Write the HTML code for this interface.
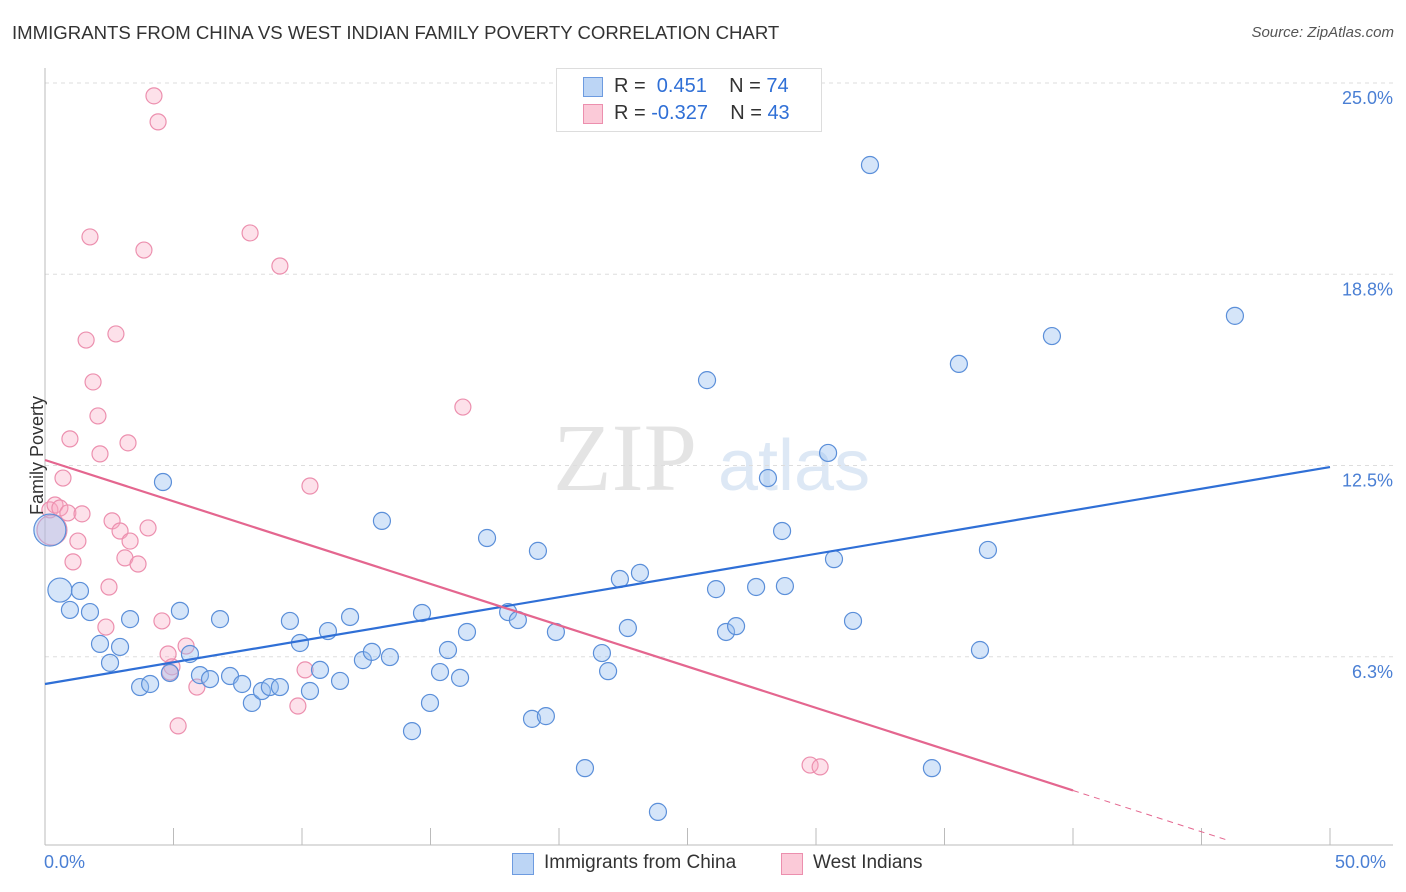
<!DOCTYPE html>
<html><head><meta charset="utf-8">
<style>
body{margin:0;background:#fff;font-family:"Liberation Sans",sans-serif;}
#wrap{position:relative;width:1406px;height:892px;overflow:hidden;}
.t{position:absolute;white-space:nowrap;}
</style></head><body>
<div id="wrap">
<div class="t" style="left:12px;top:22px;font-size:18.6px;color:#333;">IMMIGRANTS FROM CHINA VS WEST INDIAN FAMILY POVERTY CORRELATION CHART</div>
<div class="t" style="right:12px;top:24px;font-size:15px;color:#555;font-style:italic;">Source: ZipAtlas.com</div>
<svg id="svg" width="1406" height="892" style="position:absolute;left:0;top:0"></svg>
</div>
<script>
const xTicks=[0,5,10,15,20,25,30,35,40,45,50];
const yTicks=[6.25,12.5,18.75,25];
const yTickLabels=["6.3%","12.5%","18.8%","25.0%"];
const chinaX=[0.19,0.58,0.97,1.36,1.75,2.14,2.53,2.92,3.31,3.70,4.09,4.59,4.86,5.25,5.64,6.03,6.42,6.81,7.20,7.67,8.05,8.44,8.75,9.14,9.53,9.92,10.31,10.70,11.01,11.48,11.87,12.37,12.72,13.11,13.42,14.28,14.67,14.98,15.37,15.68,16.15,16.42,17.20,18.02,18.40,18.95,19.18,19.49,19.88,21.01,21.67,21.91,22.37,22.68,23.15,23.85,25.76,26.11,26.50,26.89,27.67,28.13,28.68,28.79,30.47,30.70,31.44,32.10,34.51,35.56,36.38,36.69,39.18,46.30];
const chinaY=[10.39,8.43,7.78,8.40,7.71,6.67,6.05,6.57,7.48,5.26,5.36,11.96,5.72,7.75,6.34,5.65,5.52,7.48,5.62,5.36,4.74,5.13,5.26,5.26,7.42,6.70,5.13,5.82,7.09,5.46,7.55,6.14,6.41,10.69,6.24,3.82,7.68,4.74,5.75,6.47,5.56,7.06,10.13,7.71,7.45,4.22,9.71,4.31,7.06,2.61,6.37,5.78,8.79,7.19,8.99,1.18,15.29,8.46,7.06,7.25,8.53,12.09,10.36,8.56,12.91,9.44,7.42,22.32,2.61,15.82,6.47,9.74,16.73,17.39];
const wiX=[0.19,0.39,0.58,0.70,0.89,0.97,1.09,1.28,1.44,1.60,1.75,1.87,2.06,2.14,2.37,2.49,2.61,2.76,2.92,3.11,3.23,3.31,3.62,3.85,4.01,4.24,4.40,4.55,4.79,4.94,5.18,5.49,5.91,7.98,9.14,9.84,10.12,10.31,16.26,29.77,30.16,0.27,4.86];
const wiY=[11.05,11.21,11.11,12.09,10.95,13.37,9.35,10.03,10.92,16.60,19.97,15.23,14.12,12.88,7.22,8.53,10.69,16.80,10.36,9.48,13.24,10.03,9.28,19.54,10.46,24.58,23.73,7.42,6.34,5.92,3.99,6.60,5.26,20.10,19.02,4.64,5.82,11.83,14.41,2.71,2.65,10.39,5.75];
const chinaLine=[5.36,12.45];
const wiLine=[12.68,-0.27];
const X0=45,X1=1330,YT=83,YB=848;
const xs=v=>X0+(v/50)*(X1-X0);
const ys=v=>YB-(v/25)*(YB-YT);
const svg=document.getElementById('svg');
const NS='http://www.w3.org/2000/svg';
function mk(tag,at,parent){const e=document.createElementNS(NS,tag);for(const k in at)e.setAttribute(k,at[k]);(parent||svg).appendChild(e);return e;}
let w=mk('text',{x:553,y:490,'font-size':96,'font-family':'Liberation Serif,serif',fill:'#e4e4e4'});w.textContent='ZIP';


let w2=mk('text',{x:718,y:490,'font-size':72,'font-family':'Liberation Sans,sans-serif',fill:'#dde8f5'});w2.textContent='atlas';


yTicks.forEach((t,i)=>{
 const g=mk('line',{x1:X0,x2:1393,y1:ys(t),y2:ys(t),stroke:'#ddd','stroke-dasharray':'4,4'});
 
 
 const l=mk('text',{x:1393,y:ys(t)+21,'text-anchor':'end','font-size':18,fill:'#4a7fd4'});l.textContent=yTickLabels[i];
 
 
});
const ax=mk('line',{x1:X0,x2:X0,y1:68,y2:845,stroke:'#bbb'});


const bx=mk('line',{x1:X0,x2:1393,y1:845,y2:845,stroke:'#bbb'});


xTicks.forEach(t=>{const k=mk('line',{x1:xs(t),x2:xs(t),y1:828,y2:845,stroke:'#bbb'});
 
 });
function dot(x,y,r,fill,stroke,name){const c=mk('circle',{cx:xs(x),cy:ys(y),r:r,fill:fill,stroke:stroke,'stroke-width':1.2});
 
 }
wiX.forEach((x,i)=>dot(x,wiY[i],i==41?15:8,'rgba(248,170,195,0.35)','#ec8fae','west-indians-point'));
chinaX.forEach((x,i)=>dot(x,chinaY[i],i==0?16:(i==1?12:8.5),'rgba(150,190,240,0.4)','#5b8fd9','china-point'));
const bl=mk('line',{x1:xs(0),y1:ys(chinaLine[0]),x2:xs(50),y2:ys(chinaLine[1]),stroke:'#2f6fd6','stroke-width':2.2});


const pl=mk('line',{x1:xs(0),y1:ys(wiLine[0]),x2:xs(40),y2:ys(wiLine[0]+wiLine[1]*40),stroke:'#e4668f','stroke-width':2.2});


const pd=mk('line',{x1:xs(40),y1:ys(wiLine[0]+wiLine[1]*40),x2:xs(46.1),y2:ys(wiLine[0]+wiLine[1]*46.1),stroke:'#e4668f','stroke-width':1,'stroke-dasharray':'6,5'});


</script>
<div class="t" style="left:-22px;top:445px;font-size:18px;color:#333;transform:rotate(-90deg);">Family Poverty</div>
<div class="t" style="left:44px;top:852px;font-size:18px;color:#4a7fd4;">0.0%</div>
<div class="t" style="left:1335px;top:852px;font-size:18px;color:#4a7fd4;">50.0%</div>
<div style="position:absolute;left:556px;top:68px;width:264px;height:62px;border:1px solid #ddd;background:#fff;font-size:20px;">
 <div style="position:absolute;left:26px;top:8px;width:18px;height:18px;background:#bcd5f5;border:1px solid #6d9be0"></div>
 <div class="t" style="left:57px;top:6px;color:#333">R = <span style="color:#2f6fd6">&nbsp;0.451</span>&nbsp;&nbsp;&nbsp; N = <span style="color:#2f6fd6">74</span></div>
 <div style="position:absolute;left:26px;top:35px;width:18px;height:18px;background:#fbcad8;border:1px solid #ec8fae"></div>
 <div class="t" style="left:57px;top:33px;color:#333">R = <span style="color:#2f6fd6">-0.327</span>&nbsp;&nbsp;&nbsp; N = <span style="color:#2f6fd6">43</span></div>
</div>
<div style="position:absolute;left:512px;top:853px;width:20px;height:20px;background:#bcd5f5;border:1px solid #6d9be0"></div>
<div class="t" style="left:544px;top:852px;font-size:19px;color:#333">Immigrants from China</div>
<div style="position:absolute;left:781px;top:853px;width:20px;height:20px;background:#fbcad8;border:1px solid #ec8fae"></div>
<div class="t" style="left:813px;top:852px;font-size:19px;color:#333">West Indians</div>
</body></html>
